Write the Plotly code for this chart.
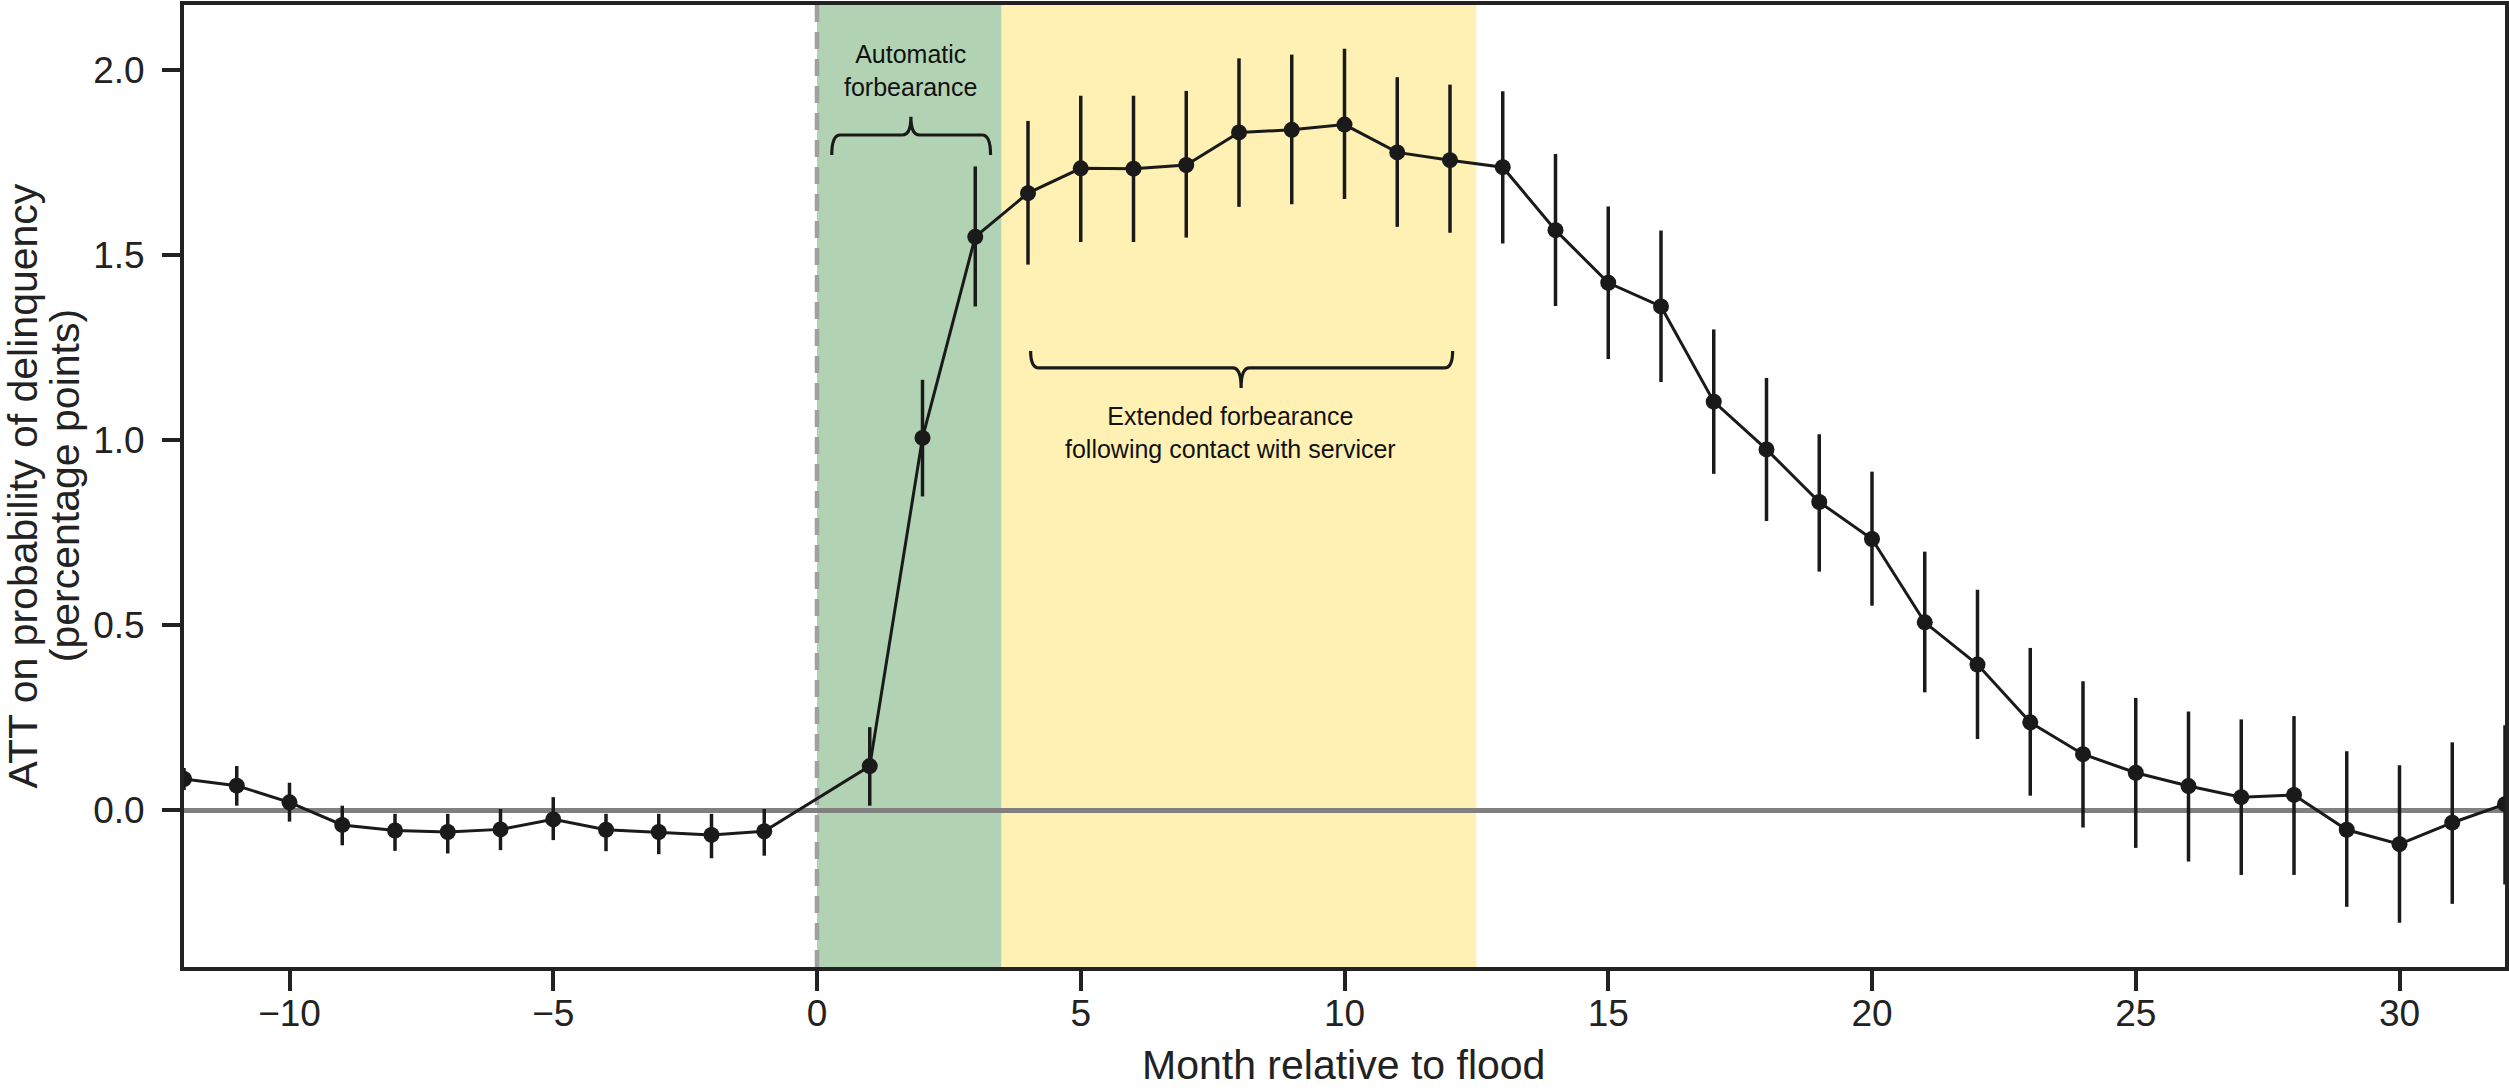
import plotly.graph_objects as go

# ---- data ----
months = [-12, -11, -10, -9, -8, -7, -6, -5, -4, -3, -2, -1,
          1, 2, 3, 4, 5, 6, 7, 8, 9, 10, 11, 12, 13, 14, 15, 16,
          17, 18, 19, 20, 21, 22, 23, 24, 25, 26, 27, 28, 29, 30, 31, 32]
att = [0.085, 0.067, 0.022, -0.039, -0.054, -0.058, -0.051, -0.024, -0.052, -0.058, -0.066, -0.056,
       0.120, 1.006, 1.549, 1.667, 1.734, 1.733, 1.743, 1.831, 1.838, 1.852, 1.777, 1.756, 1.737, 1.567,
       1.425, 1.361, 1.104, 0.975, 0.833, 0.733, 0.508, 0.394, 0.238, 0.152, 0.102, 0.066, 0.036, 0.042,
       -0.052, -0.091, -0.033, 0.017]
ci_upper = [0.115, 0.120, 0.075, 0.013, -0.009, -0.009, 0.004, 0.036, -0.009, -0.009, -0.009, 0.004,
            0.225, 1.163, 1.739, 1.862, 1.930, 1.930, 1.943, 2.031, 2.041, 2.057, 1.980, 1.960, 1.942, 1.773,
            1.631, 1.566, 1.299, 1.168, 1.016, 0.915, 0.699, 0.596, 0.439, 0.349, 0.304, 0.267, 0.246, 0.255,
            0.160, 0.122, 0.184, 0.230]
ci_lower = [0.055, 0.013, -0.030, -0.094, -0.109, -0.116, -0.107, -0.080, -0.110, -0.118, -0.129, -0.122,
            0.013, 0.848, 1.361, 1.474, 1.535, 1.535, 1.547, 1.630, 1.637, 1.651, 1.576, 1.560, 1.531, 1.362,
            1.219, 1.157, 0.909, 0.782, 0.645, 0.553, 0.319, 0.193, 0.040, -0.046, -0.101, -0.138, -0.174, -0.174,
            -0.260, -0.303, -0.252, -0.200]

x_ticks = [-10, -5, 0, 5, 10, 15, 20, 25, 30]
y_ticks = [0.0, 0.5, 1.0, 1.5, 2.0]

auto_band = (0, 3.5)
ext_band = (3.5, 12.5)

label_auto = "Automatic<br>forbearance"
label_ext = "Extended forbearance<br>following contact with servicer"
x_title = "Month relative to flood"
y_title_1 = "ATT on probability of delinquency"
y_title_2 = "(percentage points)"

FONT = "Liberation Sans, Arial, sans-serif"
INK = "#1a1a1a"
TXT = "#222222"

err_plus = [u - a for u, a in zip(ci_upper, att)]
err_minus = [a - l for a, l in zip(att, ci_lower)]

fig = go.Figure()
fig.add_trace(go.Scatter(
    x=months, y=att, mode="lines+markers",
    line=dict(color=INK, width=3),
    marker=dict(color=INK, size=16),
    error_y=dict(type="data", symmetric=False, array=err_plus, arrayminus=err_minus,
                 color=INK, thickness=3.5, width=0),
    showlegend=False,
))

shapes = [
    dict(type="rect", xref="x", yref="paper", x0=auto_band[0], x1=auto_band[1], y0=0, y1=1,
         fillcolor="#b2d3b3", line=dict(width=0), layer="below"),
    dict(type="rect", xref="x", yref="paper", x0=ext_band[0], x1=ext_band[1], y0=0, y1=1,
         fillcolor="#fef1b3", line=dict(width=0), layer="below"),
    dict(type="line", xref="x", yref="paper", x0=0, x1=0, y0=0, y1=1,
         line=dict(color="#a0a0a0", width=4.5, dash="17px,10px"), layer="below"),
    dict(type="line", xref="paper", yref="y", x0=0, x1=1, y0=0, y1=0,
         line=dict(color="#808080", width=5), layer="below"),
]


def brace(x0, x1, xc, yh, yleg, ytip, r=0.16):
    return (f"M {x0},{yleg} Q {x0},{yh} {x0 + r},{yh} L {xc - r},{yh} "
            f"Q {xc},{yh} {xc},{ytip} Q {xc},{yh} {xc + r},{yh} "
            f"L {x1 - r},{yh} Q {x1},{yh} {x1},{yleg}")


shapes.append(dict(type="path", xref="x", yref="y",
                   path=brace(0.28, 3.29, 1.78, 1.824, 1.770, 1.873),
                   line=dict(color=INK, width=3.2)))
shapes.append(dict(type="path", xref="x", yref="y",
                   path=brace(4.05, 12.05, 8.04, 1.195, 1.241, 1.141),
                   line=dict(color=INK, width=3.2)))

annotations = [
    dict(text=label_auto, x=1.77, y=1.997, xref="x", yref="y", showarrow=False,
         font=dict(family=FONT, size=25, color="#111"), align="center"),
    dict(text=label_ext, x=7.83, y=1.022, xref="x", yref="y", showarrow=False,
         font=dict(family=FONT, size=25, color="#111"), align="center"),
    dict(text=x_title, x=0.4997, y=-0.1019, xref="paper", yref="paper", showarrow=False,
         xanchor="center", yanchor="middle", font=dict(family=FONT, size=41, color=TXT)),
    dict(text=y_title_1, x=-0.0692, y=0.5, xref="paper", yref="paper", showarrow=False,
         textangle=-90, xanchor="center", yanchor="middle", font=dict(family=FONT, size=41, color=TXT)),
    dict(text=y_title_2, x=-0.0512, y=0.5, xref="paper", yref="paper", showarrow=False,
         textangle=-90, xanchor="center", yanchor="middle", font=dict(family=FONT, size=41, color=TXT)),
]

fig.update_layout(
    width=2509, height=1088,
    margin=dict(l=184, r=0, t=5, b=121),
    paper_bgcolor="white", plot_bgcolor="white",
    shapes=shapes, annotations=annotations,
    font=dict(family=FONT, color=TXT),
)
fig.update_xaxes(
    range=[-12, 32], tickvals=x_ticks, showgrid=False, zeroline=False,
    showline=True, linecolor="#222", linewidth=4, mirror=True,
    ticks="outside", ticklen=20, tickwidth=4, tickcolor="#222",
    tickfont=dict(family=FONT, size=37, color=TXT), ticklabelstandoff=-9,
)
fig.update_yaxes(
    range=[-0.4226, 2.175], tickvals=y_ticks, tickformat=".1f", showgrid=False, zeroline=False,
    showline=True, linecolor="#222", linewidth=4, mirror=True,
    ticks="outside", ticklen=18, tickwidth=4, tickcolor="#222",
    tickfont=dict(family=FONT, size=37, color=TXT), ticklabelstandoff=10,
)

fig.write_html("out.html")
